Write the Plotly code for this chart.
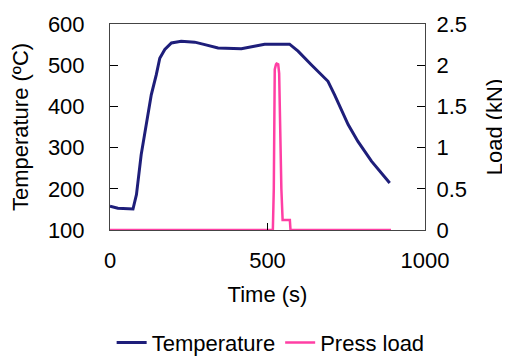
import plotly.graph_objects as go

# Temperature series (time in s, temperature in °C)
temp_time = [0, 25, 73, 84, 99, 115, 131, 147, 158, 174, 195, 226, 269, 301, 343,
             417, 470, 491, 570, 597, 639, 692, 713, 756, 787, 830, 888]
temp_vals = [158, 153, 151, 186, 283, 356, 428, 477, 517, 538, 554, 558, 556, 550, 542,
             540, 547, 551, 551, 534, 501, 461, 428, 356, 315, 267, 214]

# Press load series (time in s, load in kN)
load_time = [0, 517, 520, 523, 527, 529, 534, 537, 544, 548, 571, 573, 892]
load_vals = [0, 0, 0.5, 1.95, 2.01, 2.02, 2.01, 1.9, 0.5, 0.12, 0.12, 0, 0]

x_ticks = [0, 500, 1000]
y_ticks = [100, 200, 300, 400, 500, 600]
y2_ticks = [0, 0.5, 1, 1.5, 2, 2.5]
y2_labels = ["0", "0.5", "1", "1.5", "2", "2.5"]

FONT = "Liberation Sans, Arial, sans-serif"
FS = 22

fig = go.Figure()
fig.add_trace(go.Scatter(x=temp_time, y=temp_vals, name="Temperature", mode="lines",
                         line=dict(color="#1e1e7a", width=3)))
fig.add_trace(go.Scatter(x=load_time, y=load_vals, name="Press load", mode="lines",
                         line=dict(color="#ff3fa4", width=2.5), yaxis="y2"))

fig.update_layout(
    width=510, height=356,
    margin=dict(l=102, r=93, t=16, b=134, autoexpand=False),
    paper_bgcolor="white", plot_bgcolor="white",
    font=dict(family=FONT, size=FS, color="black"),
    showlegend=True,
    legend=dict(orientation="h", xref="container", yref="container",
                x=0.515, xanchor="center", y=0.06, yanchor="middle",
                font=dict(size=FS), tracegroupgap=0),
    xaxis=dict(range=[0, 1000], tickvals=x_ticks, ticks="inside", ticklen=7,
               tickcolor="black", showline=True, linecolor="#444", linewidth=1,
               mirror=True, showgrid=False, zeroline=False,
               ticklabelstandoff=11,
               title=dict(text="Time (s)", standoff=14, font=dict(size=FS))),
    yaxis=dict(range=[100, 600], tickvals=y_ticks, ticks="inside", ticklen=8,
               tickcolor="black", showline=True, linecolor="#444", linewidth=1,
               showgrid=False, zeroline=False, ticklabelstandoff=20,
               title=dict(text="Temperature (ºC)", standoff=14, font=dict(size=FS))),
    yaxis2=dict(range=[0, 2.5], tickvals=y2_ticks, ticktext=y2_labels, ticks="inside",
                ticklen=8, tickcolor="black", overlaying="y", side="right",
                showline=True, linecolor="#444", linewidth=1, showgrid=False,
                zeroline=False, ticklabelstandoff=6,
                title=dict(text="Load (kN)", standoff=20, font=dict(size=FS))),
)

fig.write_html("out.html")
